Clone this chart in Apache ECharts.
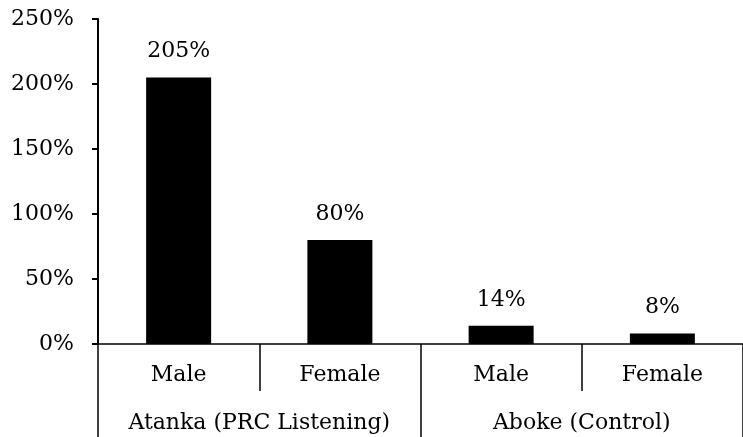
<!DOCTYPE html>
<html>
<head>
<meta charset="utf-8">
<script src="https://cdn.jsdelivr.net/npm/echarts@6/dist/echarts.min.js"></script>
<style>
html,body{margin:0;padding:0;background:#fff;}
#chart{width:743px;height:437px;}
</style>
</head>
<body>
<div id="chart"></div>
<script>
var categories = ['Male', 'Female', 'Male', 'Female'];
var groups = ['Atanka (PRC Listening)', 'Aboke (Control)'];
var values = [205, 80, 14, 8];
var yTicks = { min: 0, max: 250, interval: 50 };

var FONT = 'DejaVu Serif';
var chart = echarts.init(document.getElementById('chart'), null, { renderer: 'canvas' });
chart.setOption({
  animation: false,
  backgroundColor: '#fff',
  grid: { left: 98, top: 19, width: 650, height: 325, containLabel: false },
  xAxis: [
    {
      type: 'category',
      data: categories,
      position: 'bottom',
      axisLine: { show: true, lineStyle: { color: '#000', width: 1.5 } },
      axisTick: { show: true, interval: 0, length: 47, lineStyle: { color: '#000', width: 1.5 } },
      axisLabel: { interval: 0, margin: 20, color: '#000', fontFamily: FONT, fontSize: 22 },
      splitLine: { show: false }
    },
    {
      type: 'category',
      data: groups,
      position: 'bottom',
      axisLine: { show: false },
      axisTick: { show: true, interval: 0, length: 93, lineStyle: { color: '#000', width: 1.5 } },
      axisLabel: { interval: 0, margin: 68, color: '#000', fontFamily: FONT, fontSize: 22 },
      splitLine: { show: false }
    }
  ],
  yAxis: {
    type: 'value',
    min: yTicks.min,
    max: yTicks.max,
    interval: yTicks.interval,
    axisLine: { show: true, lineStyle: { color: '#000', width: 2 } },
    axisTick: { show: true, length: 6, lineStyle: { color: '#000', width: 2 } },
    axisLabel: { margin: 24, color: '#000', fontFamily: FONT, fontSize: 22, formatter: '{value}%' },
    splitLine: { show: false }
  },
  series: [{
    type: 'bar',
    xAxisIndex: 0,
    data: values,
    barWidth: 65,
    itemStyle: { color: '#000' },
    label: {
      show: true,
      position: 'top',
      distance: 15,
      color: '#000',
      fontFamily: FONT,
      fontSize: 22,
      formatter: '{c}%'
    }
  }]
});
</script>
</body>
</html>
